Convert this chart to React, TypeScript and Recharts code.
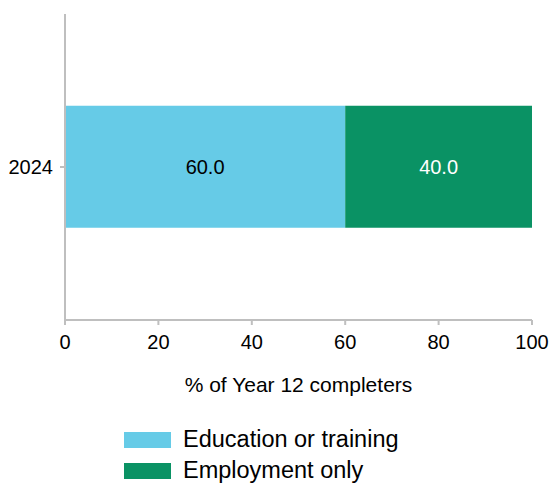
import { BarChart, Bar, XAxis, YAxis, LabelList } from 'recharts';

// categories and series
const years = ['2024'];
const educationOrTraining = [60.0];
const employmentOnly = [40.0];
const xTicks = [0, 20, 40, 60, 80, 100];

const SERIES = [
  { key: 'education', name: 'Education or training', color: '#66CBE7', labelColor: '#000000' },
  { key: 'employment', name: 'Employment only', color: '#0A9264', labelColor: '#FFFFFF' },
];

const data = years.map((year, i) => ({
  year,
  education: educationOrTraining[i],
  employment: employmentOnly[i],
}));

const FONT = '"Liberation Sans", Arial, sans-serif';
const AXIS_GREY = '#BFBFBF';

export default function App() {
  return (
    <div style={{ position: 'absolute', left: 0, top: 0, width: 550, height: 485, background: '#fff', fontFamily: FONT }}>
      <BarChart
        width={550}
        height={400}
        data={data}
        layout="vertical"
        margin={{ top: 14, right: 18, left: 0, bottom: 0 }}
        barCategoryGap="30%"
      >
        <XAxis
          type="number"
          domain={[0, 100]}
          ticks={xTicks}
          height={80}
          stroke={AXIS_GREY}
          strokeWidth={2}
          tickSize={5}
          tickMargin={10}
          tick={{ fill: '#000', fontSize: 20, fontFamily: FONT }}
          label={{ value: '% of Year 12 completers', position: 'insideBottom', offset: 8, fill: '#000', fontSize: 21, fontFamily: FONT }}
        />
        <YAxis
          type="category"
          dataKey="year"
          width={65}
          stroke={AXIS_GREY}
          strokeWidth={2}
          tickSize={5}
          tickMargin={7}
          tick={{ fill: '#000', fontSize: 20, fontFamily: FONT }}
        />
        <YAxis
          yAxisId="frame"
          type="number"
          domain={[0, 1]}
          ticks={[0, 1]}
          width={0}
          stroke={AXIS_GREY}
          strokeWidth={2}
          tickSize={5}
          tick={false}
          axisLine={false}
        />
        {SERIES.map((s) => (
          <Bar key={s.key} dataKey={s.key} name={s.name} stackId="a" fill={s.color} isAnimationActive={false}>
            <LabelList
              dataKey={s.key}
              position="center"
              formatter={(v: any) => Number(v).toFixed(1)}
              fill={s.labelColor}
              fontSize={20}
              fontFamily={FONT}
            />
          </Bar>
        ))}
      </BarChart>
      <div style={{ position: 'absolute', left: 124, top: 424, fontSize: 23.5, color: '#000' }}>
        {SERIES.map((s) => (
          <div key={s.key} style={{ display: 'flex', alignItems: 'center', height: 31 }}>
            <span style={{ display: 'inline-block', width: 47, height: 16, background: s.color, marginRight: 12 }} />
            <span>{s.name}</span>
          </div>
        ))}
      </div>
    </div>
  );
}
